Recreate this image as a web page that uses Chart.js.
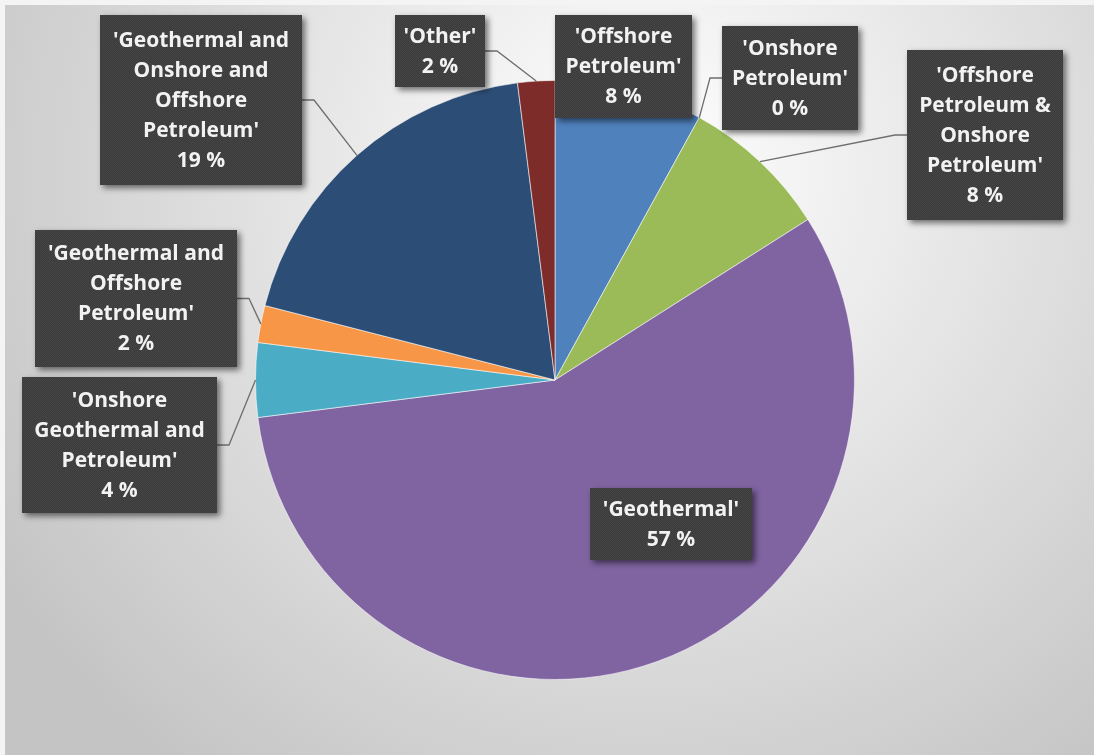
<!DOCTYPE html>
<html>
<head>
<meta charset="utf-8">
<script src="https://cdn.jsdelivr.net/npm/chart.js@4"></script>
<style>
  html, body { margin: 0; padding: 0; background: #ffffff; }
  #pie { display: block; }
</style>
</head>
<body>
<canvas id="pie" width="1094" height="755"></canvas>
<script>
// ── Data ───────────────────────────────────────────────────────
const categories = [
  ["'Offshore", "Petroleum'"],
  ["'Onshore", "Petroleum'"],
  ["'Offshore", "Petroleum &", "Onshore", "Petroleum'"],
  ["'Geothermal'"],
  ["'Onshore", "Geothermal and", "Petroleum'"],
  ["'Geothermal and", "Offshore", "Petroleum'"],
  ["'Geothermal and", "Onshore and", "Offshore", "Petroleum'"],
  ["'Other'"]
];
const shares = [8, 0, 8, 57, 4, 2, 19, 2];
const sliceColors = [
  "#4f81bd", "#c0504d", "#9bbb59", "#8064a2",
  "#4bacc6", "#f79646", "#2c4d75", "#7d2c2a"
];

// ── Label boxes (x, y, w, h) and which side the leader leaves from ──
const labelBoxes = [
  { x: 555, y: 15,  w: 137, h: 103, leader: null },
  { x: 722, y: 26,  w: 136, h: 104, leader: "left" },
  { x: 907, y: 50,  w: 156, h: 170, leader: "left" },
  { x: 590, y: 488, w: 162, h: 72,  leader: null },
  { x: 22,  y: 377, w: 195, h: 136, leader: "right" },
  { x: 35,  y: 230, w: 202, h: 137, leader: "right" },
  { x: 100, y: 15,  w: 202, h: 170, leader: "right" },
  { x: 395, y: 15,  w: 90,  h: 72,  leader: "right" }
];

const LINE_H = 30;
const FONT = "bold 21px 'Open Sans', Lato, sans-serif";

// fine checker texture used inside the label boxes
function makeTexture() {
  const c = document.createElement("canvas");
  c.width = 2; c.height = 2;
  const g = c.getContext("2d");
  g.fillStyle = "#3b3b3b"; g.fillRect(0, 0, 2, 2);
  g.fillStyle = "#454545"; g.fillRect(0, 0, 1, 1); g.fillRect(1, 1, 1, 1);
  return c;
}

// ── Plugins ────────────────────────────────────────────────────
const backdrop = {
  id: "backdrop",
  beforeDraw(chart) {
    const ctx = chart.ctx;
    ctx.save();
    ctx.fillStyle = "#f4f4f4";
    ctx.fillRect(0, 0, chart.width, chart.height);
    const grad = ctx.createRadialGradient(640, 170, 0, 640, 170, 760);
    grad.addColorStop(0, "#ffffff");
    grad.addColorStop(0.35, "#ebebeb");
    grad.addColorStop(1, "#c4c4c4");
    ctx.fillStyle = grad;
    ctx.fillRect(5, 5, chart.width - 5, chart.height - 5);
    ctx.restore();
  }
};

const calloutLabels = {
  id: "calloutLabels",
  afterDatasetsDraw(chart) {
    const ctx = chart.ctx;
    const arcs = chart.getDatasetMeta(0).data;
    const pattern = ctx.createPattern(makeTexture(), "repeat");

    // leader lines first, boxes sit on top
    ctx.save();
    ctx.strokeStyle = "#6e6e6e";
    ctx.lineWidth = 1.3;
    arcs.forEach((arc, i) => {
      const box = labelBoxes[i];
      if (!box.leader) return;
      const p = arc.getProps(["x", "y", "startAngle", "endAngle", "outerRadius"], true);
      const mid = (p.startAngle + p.endAngle) / 2;
      const ax = p.x + Math.cos(mid) * p.outerRadius;
      const ay = p.y + Math.sin(mid) * p.outerRadius;
      const by = box.y + box.h / 2;
      const bx = box.leader === "left" ? box.x : box.x + box.w;
      const stub = box.leader === "left" ? bx - 12 : bx + 12;
      ctx.beginPath();
      ctx.moveTo(bx, by);
      ctx.lineTo(stub, by);
      ctx.lineTo(ax, ay);
      ctx.stroke();
    });
    ctx.restore();

    arcs.forEach((arc, i) => {
      const box = labelBoxes[i];
      const lines = categories[i].concat([shares[i] + " %"]);

      ctx.save();
      ctx.shadowColor = "rgba(0,0,0,0.55)";
      ctx.shadowBlur = 6;
      ctx.shadowOffsetX = 3;
      ctx.shadowOffsetY = 3;
      ctx.fillStyle = pattern;
      ctx.fillRect(box.x, box.y, box.w, box.h);
      ctx.restore();

      ctx.save();
      ctx.font = FONT;
      ctx.fillStyle = "#f2f2f2";
      ctx.textAlign = "center";
      ctx.textBaseline = "middle";
      const top = box.y + (box.h - lines.length * LINE_H) / 2 + LINE_H / 2 + 1;
      lines.forEach((ln, k) => {
        ctx.fillText(ln, box.x + box.w / 2, top + k * LINE_H);
      });
      ctx.restore();
    });
  }
};

// ── Chart ──────────────────────────────────────────────────────
new Chart(document.getElementById("pie"), {
  type: "pie",
  data: {
    labels: categories,
    datasets: [{
      data: shares,
      backgroundColor: sliceColors,
      borderColor: "rgba(255,255,255,0.55)",
      borderWidth: 1
    }]
  },
  options: {
    responsive: false,
    animation: false,
    layout: { padding: { left: 255, right: 239, top: 80, bottom: 75 } },
    plugins: {
      legend: { display: false },
      tooltip: { enabled: false }
    }
  },
  plugins: [backdrop, calloutLabels]
});
</script>
</body>
</html>
